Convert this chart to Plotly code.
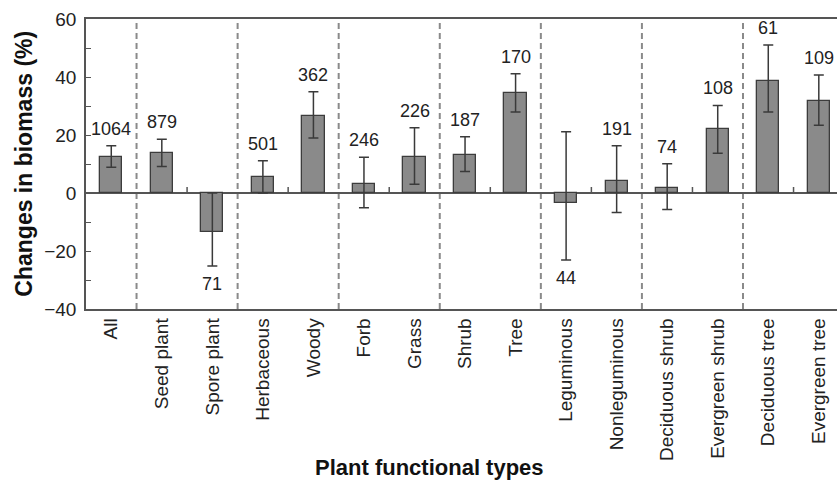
import plotly.graph_objects as go

categories = ["All", "Seed plant", "Spore plant", "Herbaceous", "Woody", "Forb", "Grass",
              "Shrub", "Tree", "Leguminous", "Nonleguminous", "Deciduous shrub",
              "Evergreen shrub", "Deciduous tree", "Evergreen tree"]
means = [12.5, 13.9, -13.3, 5.4, 26.7, 3.2, 12.3, 13.2, 34.5, -3.6, 4.3, 1.7, 22.0, 38.5, 31.8]
err_plus = [3.8, 4.6, 13.3, 5.7, 8.2, 9.1, 10.2, 6.2, 6.6, 24.7, 12.0, 8.4, 8.2, 12.5, 8.9]
err_minus = [3.6, 4.8, 11.9, 5.4, 7.7, 8.3, 9.3, 5.8, 6.6, 19.5, 11.0, 7.4, 8.3, 10.6, 8.4]
counts = [1064, 879, 71, 501, 362, 246, 226, 187, 170, 44, 191, 74, 108, 61, 109]
group_sizes = [1, 2, 2, 2, 2, 2, 2, 2]

FONT = "Liberation Sans, Arial, Helvetica, sans-serif"
AXIS = "#555555"
xs = list(range(len(categories)))

fig = go.Figure()
fig.add_trace(go.Bar(
    x=xs, y=means, width=0.44,
    marker=dict(color="#8a8a8a", line=dict(color="#3c3c3c", width=1.3)),
    error_y=dict(type="data", symmetric=False, array=err_plus, arrayminus=err_minus,
                 color="#3a3a3a", thickness=1.5, width=5),
    showlegend=False, hoverinfo="skip",
))

shapes = []
pos = 0
for gi, size in enumerate(group_sizes):
    for k in range(size - 1):
        xm = pos + k + 0.5
        shapes.append(dict(type="line", xref="x", yref="y", x0=xm, x1=xm,
                           ysizemode="pixel", yanchor=0, y0=0, y1=6,
                           line=dict(color=AXIS, width=1.5)))
    pos += size
    if gi < len(group_sizes) - 1:
        shapes.append(dict(type="line", xref="x", yref="paper", x0=pos - 0.5, x1=pos - 0.5,
                           y0=0, y1=1, line=dict(color="#8a8a8a", width=2, dash="6px,4px"),
                           layer="below"))

annotations = []
for x, m, p, mn, c in zip(xs, means, err_plus, err_minus, counts):
    if m >= 0:
        annotations.append(dict(x=x, y=m + p, xref="x", yref="y", text=str(c), showarrow=False,
                                yanchor="bottom", yshift=5,
                                font=dict(family=FONT, size=18, color="#222222")))
    else:
        annotations.append(dict(x=x, y=m - mn, xref="x", yref="y", text=str(c), showarrow=False,
                                yanchor="top", yshift=-6,
                                font=dict(family=FONT, size=18, color="#222222")))

annotations.append(dict(xref="paper", yref="paper", x=0.458, y=-0.548, text="<b>Plant functional types</b>",
                        showarrow=False, xanchor="center", yanchor="middle",
                        font=dict(family=FONT, size=22, color="#111111")))
annotations.append(dict(xref="paper", yref="paper", x=-0.083, y=0.5, text="<b>Changes in biomass (%)</b>",
                        showarrow=False, xanchor="center", yanchor="middle", textangle=-90,
                        font=dict(family=FONT, size=23, color="#111111")))

fig.update_layout(
    width=837, height=481,
    margin=dict(l=86, r=0, t=19, b=172, pad=0),
    paper_bgcolor="white", plot_bgcolor="white",
    font=dict(family=FONT, size=19, color="#222222"),
    shapes=shapes, annotations=annotations,
    bargap=0,
    xaxis=dict(range=[-0.5, 14.36], tickmode="array", tickvals=xs, ticktext=categories,
               tickangle=-90, ticks="", showgrid=False, zeroline=False, automargin=False,
               showline=True, linecolor=AXIS, linewidth=1.5, mirror=True,
               tickfont=dict(family=FONT, size=19, color="#222222")),
    yaxis=dict(range=[-40, 60], dtick=20, tick0=0, ticks="inside", ticklen=5, tickwidth=1.3,
               tickcolor=AXIS, showgrid=False, zeroline=True, zerolinecolor=AXIS, zerolinewidth=1.5,
               showline=True, linecolor=AXIS, linewidth=1.5, mirror=False, automargin=False,
               ticklabelstandoff=4,
               minor=dict(dtick=10, ticks="inside", ticklen=5, tickwidth=1.3, tickcolor=AXIS),
               tickfont=dict(family=FONT, size=19, color="#222222")),
)

fig.write_html("out.html", config={"displayModeBar": False},
               post_script="document.body.style.margin='0';document.body.style.padding='0';"
                           "document.body.style.overflow='hidden';")
